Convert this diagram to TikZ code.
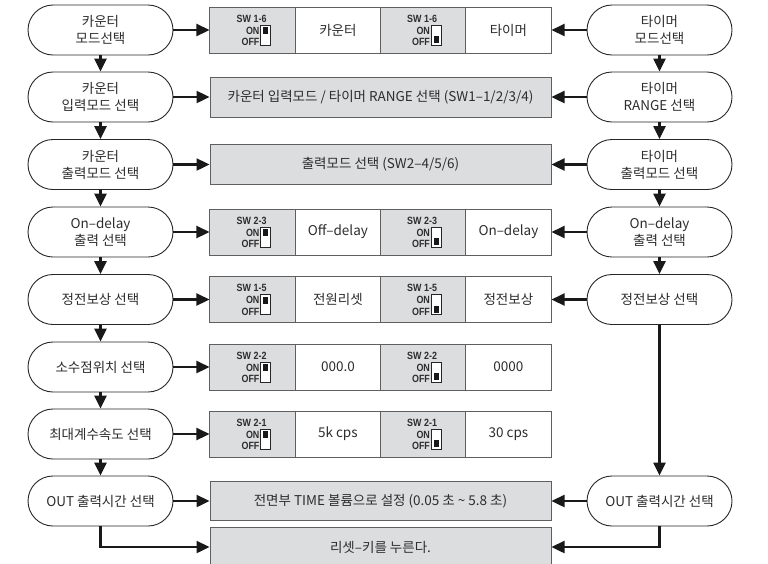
\documentclass[tikz,border=0pt]{standalone}
\usepackage{fontspec}
\setmainfont{Noto Sans CJK KR}
\newfontfamily\swfont[FakeStretch=0.85]{Liberation Sans}
\usetikzlibrary{shapes.misc,arrows.meta}
\definecolor{boxgray}{RGB}{220,221,223}
\definecolor{edgegray}{RGB}{95,95,95}
\definecolor{txt}{RGB}{45,45,45}
\tikzset{
  stad/.style={rounded rectangle, draw=black!85, line width=0.9pt, fill=white,
    minimum width=145pt, minimum height=50pt, inner sep=0pt, align=center,
    text=txt, font=\fontsize{13.5}{17}\selectfont},
  gbox/.style={rectangle, draw=edgegray, line width=1pt, fill=boxgray, inner sep=0pt,
    align=center, text=txt, font=\fontsize{13.5}{17}\selectfont},
  wbox/.style={gbox, fill=white},
  swcell/.style={minimum width=85.25pt, minimum height=46pt},
  wide/.style={minimum width=341pt},
  swtxt/.style={inner sep=0pt, text=txt, font=\fontsize{10.5}{11}\selectfont\swfont\bfseries},
  arr/.style={line width=2.4pt, draw=black!90, -{Triangle[length=13pt,width=12pt]}},
}
\newcommand\swg[3]{%
  \begin{scope}[shift={(#1.center)}]
    \node[swtxt] (#1-sw) at (-1,-11.5) {#2};
    \node[swtxt, anchor=east] (#1-on) at (7,0.5) {ON};
    \node[swtxt, anchor=east] (#1-off) at (7,12) {OFF};
    \draw[line width=0.8pt, draw=black!85, fill=white] (8,-5) rectangle (18,15);
    \ifnum#3=1 \fill[black!90] (10.5,-3) rectangle (15.5,4);
    \else \fill[black!90] (10.5,6) rectangle (15.5,13);\fi
  \end{scope}}
\newcommand\swrow[5]{% prefix, y, label, on-text, off-text
  \node[gbox, swcell] (#1a) at (252.6,#2) {};
  \node[wbox, swcell] (#1b) at (337.9,#2) {#4};
  \node[gbox, swcell] (#1c) at (423.1,#2) {};
  \node[wbox, swcell] (#1d) at (508.4,#2) {#5};
  \swg{#1a}{#3}{1}
  \swg{#1c}{#3}{0}}
\begin{document}
\begin{tikzpicture}[x=1pt,y=-1pt]
\useasboundingbox (0,0) rectangle (768,563);
\clip (0,0) rectangle (768,563);
% left column
\node[stad] (L1) at (100.5,30) {카운터\\모드선택};
\node[stad] (L2) at (100.5,97) {카운터\\입력모드 선택};
\node[stad] (L3) at (100.5,164.5) {카운터\\출력모드 선택};
\node[stad] (L4) at (100.5,232) {On–delay\\출력 선택};
\node[stad] (L5) at (100.5,299.5) {정전보상 선택};
\node[stad] (L6) at (100.5,367) {소수점위치 선택};
\node[stad] (L7) at (100.5,434) {최대계수속도 선택};
\node[stad] (L8) at (100.5,501) {OUT 출력시간 선택};
% right column
\node[stad] (R1) at (659.5,30) {타이머\\모드선택};
\node[stad] (R2) at (659.5,97) {타이머\\RANGE 선택};
\node[stad] (R3) at (659.5,164.5) {타이머\\출력모드 선택};
\node[stad] (R4) at (659.5,232) {On–delay\\출력 선택};
\node[stad] (R5) at (659.5,299.5) {정전보상 선택};
\node[stad] (R8) at (659.5,501) {OUT 출력시간 선택};
% middle boxes
\swrow{A}{30}{SW 1-6}{카운터}{타이머}
\node[gbox, wide, minimum height=40pt] (B2) at (380.5,97) {카운터 입력모드 / 타이머 RANGE 선택 (SW1–1/2/3/4)};
\node[gbox, wide, minimum height=40pt] (B3) at (380.5,164.5) {출력모드 선택 (SW2–4/5/6)};
\swrow{D}{232}{SW 2-3}{Off–delay}{On–delay}
\swrow{E}{299.5}{SW 1-5}{전원리셋}{정전보상}
\swrow{F}{367}{SW 2-2}{000.0}{0000}
\swrow{G}{434}{SW 2-1}{5k cps}{30 cps}
\node[gbox, wide, minimum height=39pt] (B8) at (380.5,501) {전면부 TIME 볼륨으로 설정 (0.05 초 \textasciitilde{} 5.8 초)};
\node[gbox, wide, minimum height=40pt] (B9) at (380.5,547) {리셋–키를 누른다.};
% horizontal arrows
\draw[arr] (L1.east) -- (Aa.west);
\draw[arr] (L2.east) -- (B2.west);
\draw[arr] (L3.east) -- (B3.west);
\draw[arr] (L4.east) -- (Da.west);
\draw[arr] (L5.east) -- (Ea.west);
\draw[arr] (L6.east) -- (Fa.west);
\draw[arr] (L7.east) -- (Ga.west);
\draw[arr] (L8.east) -- (B8.west);
\draw[arr] (R1.west) -- (Ad.east);
\draw[arr] (R2.west) -- (B2.east);
\draw[arr] (R3.west) -- (B3.east);
\draw[arr] (R4.west) -- (Dd.east);
\draw[arr] (R5.west) -- (Ed.east);
\draw[arr] (R8.west) -- (B8.east);
% vertical arrows
\foreach \a/\b in {L1/L2,L2/L3,L3/L4,L4/L5,L5/L6,L6/L7,L7/L8,R1/R2,R2/R3,R3/R4,R4/R5,R5/R8}
  \draw[arr] (\a.south) -- (\b.north);
% to reset
\draw[arr] (L8.south) |- (B9.west);
\draw[arr] (R8.south) |- (B9.east);
\end{tikzpicture}
\end{document}
